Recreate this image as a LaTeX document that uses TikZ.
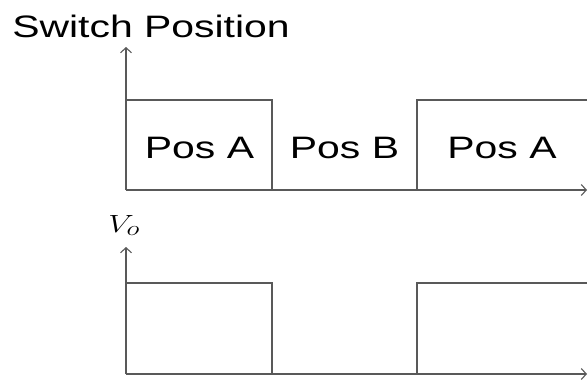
\documentclass[tikz,border=0pt]{standalone}
\usepackage{fontspec}
\setmainfont{Liberation Sans}
\usepackage{amssymb,amsmath}
\usetikzlibrary{arrows.meta}

\begin{document}
\begin{tikzpicture}[x=1pt,y=-1pt,
  axis/.style={draw=black!65,line width=1.1pt,-{Straight Barb[length=5pt,width=11pt]}},
  wave/.style={draw=black!65,line width=1.1pt},
  lbl/.style={font=\fontsize{31}{31}\selectfont,xscale=1.32,inner sep=0pt}]
\useasboundingbox (0,0) rectangle (588,381);
% top plot
\coordinate (O1) at (126,190);
\coordinate (Y1) at (126,47);
\coordinate (X1) at (587,190);
\coordinate (H1) at (126,100);
% bottom plot
\coordinate (O2) at (126,374);
\coordinate (Y2) at (126,247);
\coordinate (X2) at (587,374);
\coordinate (H2) at (126,283);
\node[lbl,anchor=base west] (title) at (12,37) {Switch Position};
\node[anchor=base west,inner sep=0pt,xscale=1.3,font=\fontsize{28}{28}\selectfont] (vo) at (108,232) {$V_o$};
\foreach \o/\y/\x in {O1/Y1/X1, O2/Y2/X2} {
  \draw[axis] (\o) -- (\y);
  \draw[axis] (\o) -- (\x);
}
\draw[wave] (H1) -- (272,100) -- (272,190);
\draw[wave] (417,190) -- (417,100) -- (587,100);
\draw[wave] (H2) -- (272,283) -- (272,374);
\draw[wave] (417,374) -- (417,283) -- (587,283);
\node[lbl,anchor=base] (posA1) at (199.5,158) {Pos A};
\node[lbl,anchor=base] (posB) at (344.5,158) {Pos B};
\node[lbl,anchor=base] (posA2) at (502,158) {Pos A};
\end{tikzpicture}
\end{document}
